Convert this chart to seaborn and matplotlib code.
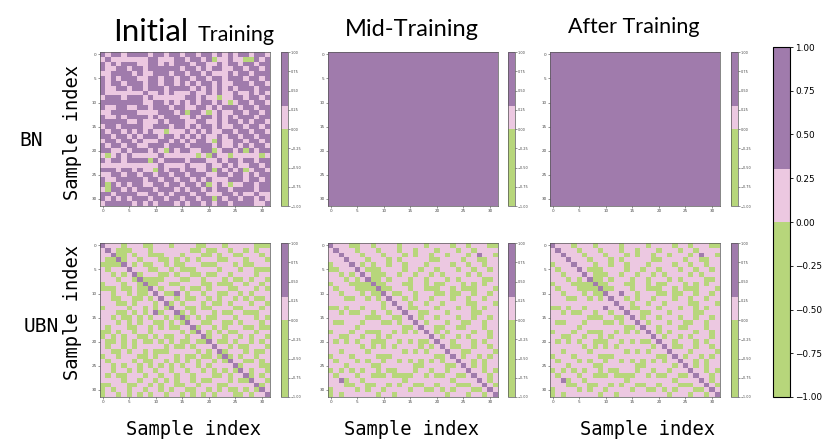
import numpy as np
import matplotlib
matplotlib.use("Agg")
import matplotlib.pyplot as plt
import seaborn as sns
from matplotlib.colors import ListedColormap, Normalize
from matplotlib.cm import ScalarMappable

# ---------------- data (cell classes) ----------------
# '0' = below 0 (green), '1' = 0 .. 0.3 (pink), '2' = above 0.3 (purple)
# matrices are symmetric; only the upper triangle (j >= i) is written
LEVEL_VALUES = {"0": -0.5, "1": 0.15, "2": 0.65}

bn_initial = [
    "21221222 21221221 22122121 21221221",
    ".2111111 12211122 12212011 21100212",
    "..212221 12212122 21221121 22122122",
    "...22122 12222221 22121221 12212212",
    "....2212 11222122 12212111 21221222",
    ".....221 12212212 21221221 22212212",
    "......22 12212212 12122121 12221221",
    ".......2 12221222 21212121 21222122",
    "........ 21121211 12112121 12112121",
    "........ .2111111 22121101 12212212",
    "........ ..221212 12122121 01221221",
    "........ ...22122 11221212 22122122",
    "........ ....2212 02210121 12212212",
    "........ .....221 12122121 21222122",
    "........ ......22 11221121 22121221",
    "........ .......2 12122121 12212212",
    "........ ........ 21212112 21221221",
    "........ ........ .2121121 22122122",
    "........ ........ ..221021 12212212",
    "........ ........ ...22121 12121221",
    "........ ........ ....2012 21202122",
    "........ ........ .....211 01111101",
    "........ ........ ......21 22122122",
    "........ ........ .......2 12112212",
    "........ ........ ........ 21201221",
    "........ ........ ........ .2212122",
    "........ ........ ........ ..212212",
    "........ ........ ........ ...22122",
    "........ ........ ........ ....2122",
    "........ ........ ........ .....211",
    "........ ........ ........ ......21",
    "........ ........ ........ .......2",
]

bn_mid_class = "2"      # whole matrix purple
bn_after_class = "2"    # whole matrix purple

ubn_initial = [
    "21110111 00111011 11001110 11111000",
    ".2100011 10111111 10010011 01101011",
    "..200101 10001110 11100101 10011101",
    "...20110 11100101 01011100 11101110",
    "....2101 00110100 11100011 10100111",
    ".....211 10011010 00111101 11011000",
    "......20 11100101 10010011 01111011",
    ".......2 00001110 01101110 10010110",
    "........ 20011001 11100100 01101101",
    "........ .2101110 10010111 00111010",
    "........ ..210021 01101100 11010111",
    "........ ...21101 00110101 10101001",
    "........ ....2010 11101001 01110110",
    "........ .....211 00100111 10011101",
    "........ ......20 10111010 01100011",
    "........ .......2 01010011 10111010",
    "........ ........ 21100110 01011101",
    "........ ........ .2011010 11100100",
    "........ ........ ..210101 00111011",
    "........ ........ ...20110 11010110",
    "........ ........ ....2100 10110101",
    "........ ........ .....211 01001110",
    "........ ........ ......20 11101001",
    "........ ........ .......2 01011011",
    "........ ........ ........ 21100101",
    "........ ........ ........ .2011100",
    "........ ........ ........ ..210110",
    "........ ........ ........ ...20101",
    "........ ........ ........ ....2110",
    "........ ........ ........ .....201",
    "........ ........ ........ ......21",
    "........ ........ ........ .......2",
]

ubn_mid = [
    "21110011 01111011 11011110 11011100",
    ".2111011 10111011 01110111 01101111",
    "..211101 11011101 01101101 11012110",
    "...21110 11101011 11100111 10110011",
    "....2101 01101101 11011110 11011011",
    ".....210 00111101 10110111 01101101",
    "......21 00011011 01101011 11010111",
    ".......2 00101110 11011101 01111001",
    "........ 20011100 11010011 10101011",
    "........ .2001110 11000110 10001110",
    "........ ..210011 01110010 01101101",
    "........ ...21101 01101110 11011011",
    "........ ....2110 11011011 11001110",
    "........ .....210 01110111 01101011",
    "........ ......21 10011101 11100111",
    "........ .......2 10110111 01101101",
    "........ ........ 21011101 10011011",
    "........ ........ .2110011 00111011",
    "........ ........ ..210101 11101101",
    "........ ........ ...21011 01011101",
    "........ ........ ....2110 11101011",
    "........ ........ .....210 01101101",
    "........ ........ ......21 10011110",
    "........ ........ .......2 10110101",
    "........ ........ ........ 21101011",
    "........ ........ ........ .2101011",
    "........ ........ ........ ..211010",
    "........ ........ ........ ...21101",
    "........ ........ ........ ....2101",
    "........ ........ ........ .....210",
    "........ ........ ........ ......21",
    "........ ........ ........ .......2",
]

ubn_after = [
    "21110111 01111011 11011110 11011100",
    ".2111011 10111011 01110111 01101111",
    "..211101 11011101 01101101 11012110",
    "...21110 11101011 11100111 10110011",
    "....2111 01101101 11011110 11011011",
    ".....210 00111101 10110111 01101101",
    "......21 00011011 01101011 11010111",
    ".......2 00101110 11011101 01111001",
    "........ 20011100 11010011 10101011",
    "........ .2001110 11000110 10001110",
    "........ ..211211 01110010 01101101",
    "........ ...21101 01101110 11011011",
    "........ ....2110 11011011 11001110",
    "........ .....210 01110111 01101011",
    "........ ......21 10011101 11100111",
    "........ .......2 10110111 01101101",
    "........ ........ 21011101 10011011",
    "........ ........ .2110111 00111011",
    "........ ........ ..210101 11101101",
    "........ ........ ...21011 01011101",
    "........ ........ ....2110 11101011",
    "........ ........ .....210 01101101",
    "........ ........ ......21 11011110",
    "........ ........ .......2 10110101",
    "........ ........ ........ 21101011",
    "........ ........ ........ .2101011",
    "........ ........ ........ ..211010",
    "........ ........ ........ ...21101",
    "........ ........ ........ ....2101",
    "........ ........ ........ .....210",
    "........ ........ ........ ......21",
    "........ ........ ........ .......2",
]

row_labels = ["BN", "UBN"]
col_titles = ["Initial Training", "Mid-Training", "After Training"]
axis_label = "Sample index"
tick_values = [0, 5, 10, 15, 20, 25, 30]
cbar_ticks = [-1.0, -0.75, -0.5, -0.25, 0.0, 0.25, 0.5, 0.75, 1.0]

GREEN, PINK, PURPLE = "#b7d67b", "#ecc8e1", "#a07bac"


def build(rows):
    n = len(rows)
    M = np.zeros((n, n))
    for i, r in enumerate(rows):
        r = r.replace(" ", "")
        assert len(r) == n
        for j in range(i, n):
            M[i, j] = LEVEL_VALUES[r[j]]
            M[j, i] = M[i, j]
    return M


def build_uniform(cls, n=32):
    return build([("." * i) + cls * (n - i) for i in range(n)])


mats = [
    [build(bn_initial), build_uniform(bn_mid_class), build_uniform(bn_after_class)],
    [build(ubn_initial), build(ubn_mid), build(ubn_after)],
]

# discrete-looking colormap over [-1, 1]: <0 green, 0..0.3 pink, >0.3 purple
cmap = ListedColormap([GREEN] * 10 + [PINK] * 3 + [PURPLE] * 7)

W, H = 825, 440
fig = plt.figure(figsize=(W / 100, H / 100), dpi=100)


def fbox(x0, y0, x1, y1):
    return [x0 / W, 1 - y1 / H, (x1 - x0) / W, (y1 - y0) / H]


hm_x = [(100, 270), (328, 498), (550, 720)]
cb_x = [(281, 288), (508, 515), (731, 738)]
row_y = [(52, 206), (243, 397)]

for r in range(2):
    y0, y1 = row_y[r]
    for c in range(3):
        ax = fig.add_axes(fbox(hm_x[c][0], y0, hm_x[c][1], y1))
        cax = fig.add_axes(fbox(cb_x[c][0], y0, cb_x[c][1], y1))
        sns.heatmap(mats[r][c], ax=ax, cbar_ax=cax, cmap=cmap, vmin=-1, vmax=1,
                    square=False, xticklabels=False, yticklabels=False,
                    cbar_kws={"ticks": cbar_ticks})
        ax.set_xticks(np.array(tick_values) + 0.5)
        ax.set_xticklabels([str(t) for t in tick_values])
        ax.set_yticks(np.array(tick_values) + 0.5)
        ax.set_yticklabels([str(t) for t in tick_values], rotation=0)
        ax.tick_params(labelsize=3, length=1.5, width=0.4, pad=1, colors="#444444")
        for s in ax.spines.values():
            s.set_visible(True)
            s.set_linewidth(0.5)
            s.set_color("#555555")
        cax.tick_params(labelsize=2.5, length=1.2, width=0.4, pad=1, colors="#444444")
        cb = ax.collections[0].colorbar
        cb.outline.set_linewidth(0.5)
        cb.outline.set_edgecolor("#555555")

# big shared colorbar
bcax = fig.add_axes(fbox(773, 47, 790, 397))
bcb = fig.colorbar(ScalarMappable(norm=Normalize(-1, 1), cmap=cmap), cax=bcax, ticks=cbar_ticks)
bcb.ax.tick_params(labelsize=6.4, length=2.5, width=0.6, pad=1.5)
bcb.outline.set_linewidth(0.8)

# titles
title_font = ["Lato", "DejaVu Sans"]
fig.text(113 / W, 1 - 41 / H, "Initial", fontsize=22.5, family=title_font, ha="left", va="baseline")
fig.text(198 / W, 1 - 41 / H, "Training", fontsize=15.5, family=title_font, ha="left", va="baseline")
fig.text(412 / W, 1 - 36 / H, col_titles[1], fontsize=17, family=title_font, ha="center", va="baseline")
fig.text(634 / W, 1 - 33 / H, col_titles[2], fontsize=15.5, family=title_font, ha="center", va="baseline")

mono = ["DejaVu Sans Mono"]
fig.text(31 / W, 1 - 140 / H, row_labels[0], fontsize=14, family=mono, ha="center", va="center")
fig.text(41 / W, 1 - 326 / H, row_labels[1], fontsize=14, family=mono, ha="center", va="center")
fig.text(72 / W, 1 - 132 / H, axis_label, fontsize=13.5, family=mono, ha="center", va="center", rotation=90)
fig.text(72 / W, 1 - 313 / H, axis_label, fontsize=13.5, family=mono, ha="center", va="center", rotation=90)
for xc in (194, 411, 647):
    fig.text(xc / W, 1 - 429 / H, axis_label, fontsize=13.5, family=mono, ha="center", va="center")

fig.savefig("out.png", dpi=100, facecolor="white")
